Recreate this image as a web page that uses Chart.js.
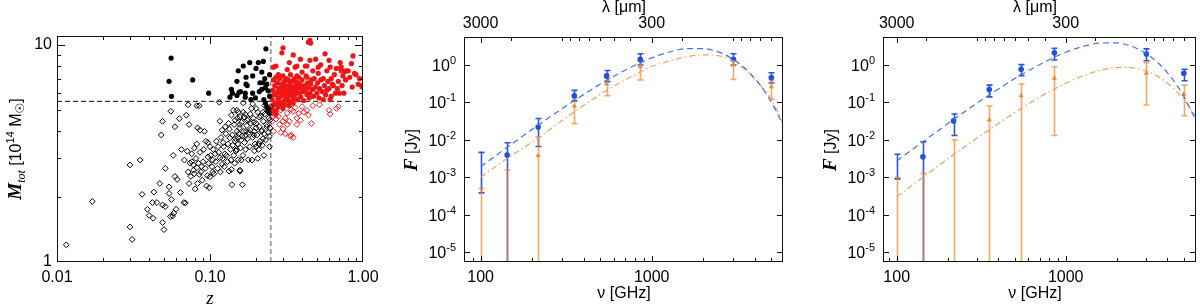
<!DOCTYPE html>
<html>
<head>
<meta charset="utf-8">
<script src="https://cdn.jsdelivr.net/npm/chart.js@4.4.1/dist/chart.umd.min.js"></script>
<style>
  html, body { margin: 0; padding: 0; background: #fff; }
  #wrap { position: relative; width: 1200px; height: 308px; }
  canvas { position: absolute; top: 0; }
</style>
</head>
<body>
<div id="wrap">
  <canvas id="mass" width="400" height="308" style="left:0"></canvas>
  <canvas id="sedA" width="400" height="308" style="left:400px"></canvas>
  <canvas id="sedB" width="400" height="308" style="left:800px"></canvas>
</div>
<script>
// ---------- left panel: cluster mass vs redshift, [z, M_tot (1e14 Msun)] ----------
var zCut = 0.25;
var massCut = 5.5;

var lowzOpen = [
  [0.0115,1.2],[0.017,1.9],[0.030,2.8],[0.035,2.95],[0.030,1.45],[0.031,1.27],[0.036,2.05],[0.039,1.75],
  [0.040,1.64],[0.042,1.88],[0.043,2.1],[0.0425,1.59],[0.045,1.88],[0.047,2.3],[0.049,1.83],[0.049,1.52],
  [0.050,1.41],[0.051,2.7],[0.051,1.8],[0.054,2.22],[0.054,2.07],[0.056,1.94],[0.0575,3.1],[0.059,2.48],
  [0.055,1.62],[0.057,1.63],[0.058,1.68],[0.060,1.75],[0.061,2.4],[0.064,2.09],[0.0675,1.88],[0.069,1.87],
  [0.071,3.24],[0.074,2.86],[0.075,2.48],[0.073,2.3],[0.078,2.8],[0.078,2.65],[0.082,2.72],[0.080,2.17],
  [0.083,2.3],[0.085,2.53],[0.088,2.75],[0.089,2.38],[0.095,2.24],[0.099,2.2],[0.100,2.47],[0.104,2.6],
  [0.116,3.02],[0.120,2.82],[0.125,3.15],[0.133,2.62],[0.139,2.27],[0.148,3.25],[0.157,2.62],[0.163,2.27],
  [0.160,2.95],[0.048,3.85],[0.049,4.45],[0.0555,4.95],[0.059,4.2],[0.063,4.58],[0.070,4.75],[0.072,5.3],
  [0.073,4.3],[0.082,5.25],[0.085,5.25],[0.083,4.15],[0.086,4.05],[0.092,4.0],[0.115,5.45],[0.116,4.45],
  [0.12,4.05],[0.126,4.2],[0.132,4.35],[0.138,4.75],[0.142,5.0],[0.146,4.5],[0.153,4.9],[0.157,4.3],
  [0.167,4.65],[0.172,4.0],[0.15,4.0],[0.135,3.73],[0.146,3.6],[0.16,3.65],[0.122,3.55],[0.113,3.4],
  [0.097,3.55],[0.1,3.4],[0.108,3.15],[0.097,3.05],[0.104,2.95],[0.079,3.35],[0.082,3.5],[0.076,3.15],
  [0.065,3.3],[0.068,2.95],[0.072,2.6],[0.076,2.9],[0.079,2.55],[0.081,3.0],[0.084,2.85],[0.086,3.2],
  [0.087,2.6],[0.09,2.9],[0.091,3.3],[0.093,2.7],[0.094,3.6],[0.096,2.5],[0.098,2.85],[0.101,3.1],
  [0.103,2.75],[0.105,3.3],[0.106,2.55],[0.109,2.9],[0.11,3.6],[0.112,2.7],[0.114,3.2],[0.117,2.6],
  [0.118,3.75],[0.121,3.0],[0.123,3.4],[0.124,2.75],[0.127,3.9],[0.128,3.1],[0.13,2.9],[0.131,3.5],
  [0.134,4.1],[0.136,3.3],[0.137,2.95],[0.14,3.85],[0.141,3.45],[0.143,3.1],[0.144,4.3],[0.147,3.7],
  [0.149,3.3],[0.151,4.6],[0.152,3.5],[0.154,3.9],[0.156,4.15],[0.158,3.35],[0.161,4.4],[0.162,3.8],
  [0.164,3.1],[0.166,4.0],[0.168,3.55],[0.17,4.8],[0.171,3.3],[0.174,4.25],[0.176,3.7],[0.178,4.55],
  [0.18,3.95],[0.182,3.4],[0.185,4.35],[0.187,5.1],[0.19,3.75],[0.192,4.6],[0.195,4.0],[0.197,3.5],
  [0.2,4.35],[0.203,3.85],[0.205,4.9],[0.208,3.3],[0.21,4.2],[0.212,3.6],[0.215,4.7],[0.218,4.05],
  [0.22,3.45],[0.223,4.45],[0.226,3.9],[0.228,4.8],[0.231,3.65],[0.234,4.3],[0.237,5.0],[0.24,3.95],
  [0.242,4.6],[0.245,3.4],[0.247,4.15],[0.249,5.2],[0.188,2.95],[0.205,3.0],[0.225,3.1],[0.178,2.96],
  [0.153,2.96],[0.145,2.85],[0.2,3.4],[0.21,3.5],[0.195,3.25],[0.15,5.0],[0.157,4.65],[0.165,4.9],
  [0.175,4.5],[0.183,4.8],[0.193,4.4],[0.2,5.1],[0.21,4.65],[0.222,4.9],[0.228,5.25],[0.24,5.1],
  [0.246,4.5],[0.235,4.2],[0.217,4.0],[0.2,4.15],[0.183,4.05],[0.17,3.8],[0.153,3.75],[0.193,3.85],
  [0.222,3.7],[0.245,3.8],[0.157,2.65],[0.138,2.67],[0.165,5.4],[0.19,5.35]
];
var lowzFilled = [
  [0.0557,8.7],[0.054,6.8],[0.056,5.8],[0.077,6.9],[0.098,6.0],[0.135,5.75],[0.138,6.25],[0.140,6.0],
  [0.153,7.6],[0.165,8.0],[0.150,6.8],[0.155,6.05],[0.172,7.1],[0.172,6.6],[0.170,5.75],[0.232,9.6],
  [0.223,8.4],[0.207,8.3],[0.182,8.3],[0.218,7.5],[0.19,7.2],[0.228,7.0],[0.212,6.7],[0.222,6.7],
  [0.235,6.6],[0.175,6.5],[0.158,6.1],[0.17,6.0],[0.19,6.0],[0.21,6.1],[0.218,6.25],[0.23,6.35],
  [0.24,6.15],[0.150,5.85],[0.198,5.7],[0.185,5.6],[0.225,5.6],[0.245,5.8],[0.235,5.2],[0.24,5.0],
  [0.245,4.85],[0.2,7.8],[0.245,7.3],[0.23,5.4]
];
var highzFilled = [
  [0.44,10.3],[0.45,10.5],[0.455,10.2],[0.30,9.7],[0.295,9.2],[0.35,9.0],[0.565,9.1],[0.49,8.6],
  [0.86,8.9],[0.84,8.2],[0.71,8.3],[0.39,8.6],[0.45,8.5],[0.33,8.3],[0.6,8.5],[0.53,8.1],[0.27,8.0],
  [0.78,7.6],[0.76,7.55],[0.80,7.6],[0.93,6.6],[0.98,6.5],[0.67,7.8],[0.58,7.6],[0.47,7.6],[0.40,7.5],
  [0.26,7.9],[0.28,7.3],[0.32,7.7],[0.36,7.9],[0.42,8.0],[0.37,7.2],[0.43,7.1],[0.51,7.4],[0.55,7.0],
  [0.62,7.0],[0.65,7.3],[0.72,7.6],[0.74,7.2],[0.85,6.4],[0.88,7.4],[0.68,6.3],[0.64,6.5],[0.7,6.0],
  [0.75,6.0],[0.62,5.8],[0.58,6.2],[0.55,5.6],[0.37,8.0],[0.43,8.0],[0.51,7.9],[0.61,7.9],[0.72,7.9],
  [0.255,5.6],[0.258,6.2],[0.26,6.9],[0.262,5.9],[0.265,6.5],[0.268,5.4],[0.27,7.1],[0.272,6.0],
  [0.275,6.7],[0.278,5.7],[0.28,6.3],[0.282,5.5],[0.285,7.0],[0.288,6.1],[0.29,5.8],[0.292,6.6],
  [0.295,5.45],[0.298,6.4],[0.3,7.2],[0.302,5.9],[0.305,6.2],[0.307,6.8],[0.31,5.6],[0.312,6.5],
  [0.315,7.0],[0.318,6.0],[0.32,5.75],[0.322,6.35],[0.325,6.9],[0.328,5.5],[0.33,6.1],[0.333,6.6],
  [0.336,7.3],[0.338,5.85],[0.34,6.4],[0.343,6.05],[0.346,6.8],[0.35,5.65],[0.353,6.25],[0.356,7.0],
  [0.36,5.9],[0.363,6.5],[0.366,6.15],[0.37,6.75],[0.373,5.6],[0.377,6.4],[0.38,7.1],[0.384,6.0],
  [0.388,6.6],[0.392,5.75],[0.396,6.3],[0.4,6.9],[0.405,6.1],[0.41,5.55],[0.415,6.5],[0.42,6.2],
  [0.425,7.2],[0.43,5.9],[0.435,6.7],[0.44,6.35],[0.445,5.7],[0.45,6.0],[0.455,6.6],[0.46,6.9],
  [0.47,6.25],[0.475,5.8],[0.48,7.0],[0.49,6.4],[0.5,6.0],[0.505,6.7],[0.515,5.7],[0.52,6.3],
  [0.53,6.9],[0.54,6.1],[0.56,6.5],[0.57,5.9],[0.59,6.8],[0.6,6.3],[0.61,5.6],[0.63,6.6],[0.66,6.0],
  [0.69,6.8],[0.73,6.5],[0.77,6.9],[0.82,7.1],[0.9,7.3],[0.95,7.0],[0.99,6.4],
  [0.25,5.1],[0.26,5.3],[0.265,4.9],[0.27,5.0],[0.28,5.2],[0.29,5.35],[0.30,5.1],[0.31,5.3],
  [0.33,5.25],[0.35,5.4],[0.27,4.8],[0.255,5.0]
];
var highzOpen = [
  [0.34,3.85],[0.35,3.75],[0.335,3.8],[0.46,4.35],[0.61,4.8],[0.60,5.0],[0.67,5.1],[0.69,5.2],
  [0.40,5.2],[0.37,4.3],[0.30,4.1],[0.285,4.3],[0.26,4.0],[0.255,4.45],[0.265,4.75],[0.28,4.7],
  [0.31,4.6],[0.32,4.85],[0.29,5.0],[0.275,5.15],[0.34,5.05],[0.38,4.85],[0.37,4.6],[0.32,4.3],
  [0.26,4.9],[0.28,5.4],[0.325,5.4],[0.255,5.2],[0.43,5.0],[0.47,5.25],[0.27,4.55],[0.3,4.45],
  [0.36,5.15],[0.39,4.5],[0.41,4.9],[0.52,5.3],[0.44,4.75],[0.33,4.45],[0.35,4.95],[0.29,3.95],[0.31,3.9]
];

// ---------- SED panels: frequency bands (GHz), fluxes (Jy) ----------
var bandNu = [100, 143, 217, 353, 545, 857, 3000, 5000];

var sedA_blueF  = [null, 3.9e-3, 0.022, 0.15, 0.51, 1.42, 1.42, 0.46];
var sedA_blueLo = [3.8e-4, 1e-7, 6.6e-3, 0.11, 0.36, 1.0, 1.0, 0.33];
var sedA_blueHi = [4.6e-3, 8.3e-3, 0.037, 0.21, 0.71, 2.0, 2.0, 0.62];
var sedA_orangeF  = [null, null, 3.8e-3, 0.08, 0.31, 0.9, 1.0, 0.26];
var sedA_orangeLo = [1e-7, 1e-7, 1e-7, 0.027, 0.15, 0.4, 0.41, 0.12];
var sedA_orangeHi = [5e-4, 1.56e-3, 0.012, 0.13, 0.44, 1.22, 1.36, 0.4];

var sedB_blueF  = [null, 3.5e-3, 0.032, 0.22, 0.77, 2.13, 1.97, 0.6];
var sedB_blueLo = [9e-4, 1e-7, 0.013, 0.14, 0.52, 1.36, 1.3, 0.38];
var sedB_blueHi = [4.1e-3, 8.9e-3, 0.049, 0.29, 1.02, 2.8, 2.7, 0.77];
var sedB_orangeF  = [null, null, null, 0.034, 0.15, 0.44, 0.6, 0.165];
var sedB_orangeLo = [1e-7, 1e-7, 1e-7, 1e-7, 1e-7, 0.013, 0.085, 0.044];
var sedB_orangeHi = [1e-3, 1.26e-3, 0.01, 0.08, 0.31, 0.9, 1.15, 0.29];

// model curves
var modelNu = [100, 143, 217, 353, 545, 700, 857, 1000, 1300, 1600, 2000, 2300, 2600, 3000, 3500, 4000, 4500, 5000, 5900];
var sedA_blueModel   = [1.9e-3, 6.3e-3, 0.0245, 0.112, 0.389, 0.724, 1.15, 1.55, 2.29, 2.74, 2.75, 2.45, 2.02, 1.41, 0.83, 0.437, 0.219, 0.102, 0.0229];
var sedA_orangeModel = [1.0e-3, 3.16e-3, 0.0112, 0.056, 0.209, 0.398, 0.646, 0.912, 1.32, 1.66, 1.86, 1.84, 1.66, 1.26, 0.759, 0.42, 0.23, 0.12, 0.0245];
var sedB_blueModel   = [2.7e-3, 8.9e-3, 0.0347, 0.158, 0.55, 1.02, 1.62, 2.19, 3.24, 3.85, 3.89, 3.47, 2.85, 2.0, 1.17, 0.617, 0.309, 0.145, 0.0324];
var sedB_orangeModel = [3.0e-4, 1.0e-3, 4.0e-3, 0.0186, 0.069, 0.138, 0.226, 0.324, 0.537, 0.724, 0.851, 0.867, 0.813, 0.692, 0.501, 0.331, 0.204, 0.120, 0.0407];

// axis labels
var zLabels = { 0.01: '0.01', 0.1: '0.10', 1: '1.00' };
var massLabels = { 1: '1', 10: '10' };
var nuLabels = { 100: '100', 1000: '1000' };
var lambdaTicks = [3000, 2000, 1000, 900, 800, 700, 600, 500, 400, 300, 200, 100, 90, 80, 70, 60];
var lambdaLabels = { 3000: '3000', 300: '300' };
var fluxExps = [0, -1, -2, -3, -4, -5];

var SANS = "'Liberation Sans', Arial, sans-serif";
var SERIF = "'Liberation Serif', 'Times New Roman', serif";
Chart.defaults.font.family = SANS;
Chart.defaults.color = '#000';

var BLUE = '#1f4fdc';
var ORANGE = '#f0892a';

function logTicks(min, max) {
  var out = [];
  for (var e = Math.floor(Math.log10(min)); e <= Math.ceil(Math.log10(max)); e++) {
    for (var k = 1; k < 10; k++) {
      var v = parseFloat((k * Math.pow(10, e)).toPrecision(6));
      if (v >= min * 0.9999 && v <= max * 1.0001) out.push(v);
    }
  }
  return out;
}
function isDecade(v) {
  var l = Math.log10(v);
  return Math.abs(l - Math.round(l)) < 1e-6;
}
function pickLabel(map, v) {
  for (var key in map) {
    if (Math.abs(parseFloat(key) - v) / v < 1e-6) return map[key];
  }
  return '';
}
function toPts(list) {
  return list.map(function (p) { return { x: p[0], y: p[1] }; });
}
function pairUp(xs, ys) {
  var out = [];
  for (var i = 0; i < xs.length; i++) if (ys[i] !== null) out.push({ x: xs[i], y: ys[i] });
  return out;
}

// draw a sequence of differently styled text runs, centred on (x, y) baseline
function drawRich(ctx, parts, x, y, rotate) {
  ctx.save();
  ctx.translate(x, y);
  if (rotate) ctx.rotate(-Math.PI / 2);
  var total = 0;
  parts.forEach(function (p) { ctx.font = p.font; p.w = ctx.measureText(p.t).width; total += p.w; });
  var cx = -total / 2;
  ctx.fillStyle = '#000';
  ctx.textBaseline = 'alphabetic';
  ctx.textAlign = 'left';
  parts.forEach(function (p) {
    ctx.font = p.font;
    ctx.fillText(p.t, cx, p.dy || 0);
    cx += p.w;
  });
  ctx.restore();
}

// IDL style box: frame plus inward ticks on all four sides
var boxPlugin = {
  id: 'box',
  afterDatasetsDraw: function (chart, args, o) {
    var ctx = chart.ctx, a = chart.chartArea, xs = chart.scales.x, ys = chart.scales.y;
    ctx.save();
    ctx.strokeStyle = '#111';
    ctx.lineWidth = 1;
    ctx.strokeRect(a.left + 0.5, a.top + 0.5, a.right - a.left - 1, a.bottom - a.top - 1);
    ctx.beginPath();
    o.xBottom.forEach(function (v) {
      var px = Math.round(xs.getPixelForValue(v)) + 0.5;
      if (px < a.left || px > a.right) return;
      var len = isDecade(v) ? o.major : o.minor;
      ctx.moveTo(px, a.bottom); ctx.lineTo(px, a.bottom - len);
    });
    o.xTop.forEach(function (v) {
      var px = Math.round(xs.getPixelForValue(v)) + 0.5;
      if (px < a.left || px > a.right) return;
      var len = o.topMajor.indexOf(v) >= 0 ? o.major : o.minor;
      ctx.moveTo(px, a.top); ctx.lineTo(px, a.top + len);
    });
    o.yTicks.forEach(function (v) {
      var py = Math.round(ys.getPixelForValue(v)) + 0.5;
      if (py < a.top || py > a.bottom) return;
      var len = isDecade(v) ? o.major : o.minor;
      ctx.moveTo(a.left, py); ctx.lineTo(a.left + len, py);
      ctx.moveTo(a.right, py); ctx.lineTo(a.right - len, py);
    });
    ctx.stroke();
    ctx.restore();
  },
  afterDraw: function (chart, args, o) {
    if (o.titles) o.titles(chart.ctx, chart);
  }
};

// error bars for the SED panels
var errPlugin = {
  id: 'errbars',
  beforeDatasetsDraw: function (chart, args, o) {
    var ctx = chart.ctx, a = chart.chartArea, xs = chart.scales.x, ys = chart.scales.y;
    ctx.save();
    ctx.beginPath();
    ctx.rect(a.left, a.top, a.right - a.left, a.bottom - a.top);
    ctx.clip();
    o.series.forEach(function (s) {
      ctx.strokeStyle = s.color;
      ctx.lineWidth = 1.6;
      for (var i = 0; i < bandNu.length; i++) {
        var px = Math.round(xs.getPixelForValue(bandNu[i])) + 0.5;
        var pHi = ys.getPixelForValue(s.hi[i]);
        var pLo = Math.min(ys.getPixelForValue(s.lo[i]), a.bottom + 5);
        ctx.beginPath();
        ctx.moveTo(px, pHi); ctx.lineTo(px, pLo);
        ctx.moveTo(px - 3, pHi); ctx.lineTo(px + 3, pHi);
        if (pLo < a.bottom) { ctx.moveTo(px - 3, pLo); ctx.lineTo(px + 3, pLo); }
        ctx.stroke();
      }
    });
    ctx.restore();
  }
};

function logAxis(min, max, labels, tickValues, extra) {
  var ax = {
    type: 'logarithmic',
    min: min,
    max: max,
    grid: { display: false, drawTicks: false },
    border: { display: false },
    afterBuildTicks: function (s) {
      s.ticks = tickValues.map(function (v) { return { value: v }; });
    },
    ticks: {
      autoSkip: false,
      maxRotation: 0,
      font: { size: 16 },
      callback: function (v) { return pickLabel(labels, v); }
    }
  };
  for (var k in extra) ax[k] = extra[k];
  return ax;
}

// ---------- panel 1 ----------
new Chart(document.getElementById('mass'), {
  type: 'scatter',
  data: {
    datasets: [
      { data: toPts(lowzOpen), pointStyle: 'rectRot', pointRadius: 2.9, borderWidth: 1,
        borderColor: '#000', backgroundColor: 'rgba(0,0,0,0)' },
      { data: toPts(highzOpen), pointStyle: 'rectRot', pointRadius: 2.9, borderWidth: 1,
        borderColor: '#f01515', backgroundColor: 'rgba(0,0,0,0)' },
      { data: toPts(lowzFilled), pointStyle: 'circle', pointRadius: 2.6, borderWidth: 0,
        backgroundColor: '#000' },
      { data: toPts(highzFilled), pointStyle: 'circle', pointRadius: 2.6, borderWidth: 0,
        backgroundColor: '#f01515' },
      { data: [{ x: 0.01, y: massCut }, { x: 1, y: massCut }], showLine: true, pointRadius: 0,
        borderColor: '#111', borderWidth: 1, borderDash: [5, 3] },
      { data: [{ x: zCut, y: 1 }, { x: zCut, y: 11 }], showLine: true, pointRadius: 0,
        borderColor: '#555', borderWidth: 1, borderDash: [5, 3] }
    ]
  },
  options: {
    responsive: false, animation: false, events: [], devicePixelRatio: 1,
    layout: { padding: { top: 36, right: 37, left: 0, bottom: 0 } },
    plugins: {
      legend: { display: false }, tooltip: { enabled: false },
      box: {
        xBottom: logTicks(0.01, 1), xTop: logTicks(0.01, 1), topMajor: [0.01, 0.1, 1],
        yTicks: logTicks(1, 11), major: 8, minor: 4,
        titles: function (ctx) {
          drawRich(ctx, [{ t: 'z', font: 'italic 19px ' + SERIF }], 210, 304, false);
          drawRich(ctx, [
            { t: 'M', font: 'bold italic 19px ' + SERIF },
            { t: 'tot', font: 'italic 12px ' + SERIF, dy: 4 },
            { t: ' [10', font: '16px ' + SANS },
            { t: '14', font: '11px ' + SANS, dy: -7 },
            { t: ' M', font: '16px ' + SANS },
            { t: '\u2609', font: '12px DejaVu Sans', dy: 3 },
            { t: ']', font: '16px ' + SANS }
          ], 21, 149, true);
        }
      }
    },
    scales: {
      x: logAxis(0.01, 1, zLabels, logTicks(0.01, 1), {
        afterFit: function (s) { s.height = 46; }
      }),
      y: logAxis(1, 11, massLabels, logTicks(1, 11), {
        afterFit: function (s) { s.width = 57; }
      })
    }
  },
  plugins: [boxPlugin]
});
Chart.getChart('mass').options.scales.x.ticks.padding = 6;
Chart.getChart('mass').options.scales.y.ticks.padding = 5;
Chart.getChart('mass').update();

// ---------- panels 2 and 3 ----------
function sedChart(id, nuMin, nuMax, areaLeft, padRight, titleX, d) {
  var fMin = 5.4e-6, fMax = 5.6;
  var lamNu = lambdaTicks.map(function (l) { return 3e5 / l; });
  var lamLabelNu = {};
  for (var l in lambdaLabels) lamLabelNu[3e5 / parseFloat(l)] = lambdaLabels[l];
  var yDecades = fluxExps.map(function (e) { return Math.pow(10, e); });

  new Chart(document.getElementById(id), {
    type: 'scatter',
    data: {
      datasets: [
        { data: pairUp(modelNu, d.blueModel), showLine: true, pointRadius: 0, borderColor: '#4673e6',
          borderWidth: 1.2, borderDash: [6, 4], cubicInterpolationMode: 'monotone', clip: 0 },
        { data: pairUp(modelNu, d.orangeModel), showLine: true, pointRadius: 0, borderColor: '#f0a060',
          borderWidth: 1.2, borderDash: [6, 3, 1.5, 3], cubicInterpolationMode: 'monotone', clip: 0 },
        { data: pairUp(bandNu, d.orangeF), pointStyle: 'triangle', pointRadius: 3, borderWidth: 0,
          backgroundColor: ORANGE },
        { data: pairUp(bandNu, d.blueF), pointStyle: 'circle', pointRadius: 2.8, borderWidth: 0,
          backgroundColor: BLUE }
      ]
    },
    options: {
      responsive: false, animation: false, events: [], devicePixelRatio: 1,
      layout: { padding: { top: 0, right: padRight, left: 0, bottom: 0 } },
      plugins: {
        legend: { display: false }, tooltip: { enabled: false },
        errbars: {
          series: [
            { hi: d.blueHi, lo: d.blueLo, color: 'rgba(35,75,215,0.95)' },
            { hi: d.orangeHi, lo: d.orangeLo, color: 'rgba(240,135,40,0.72)' }
          ]
        },
        box: {
          xBottom: logTicks(nuMin, nuMax), xTop: lamNu, topMajor: [3e5 / 3000, 3e5 / 300],
          yTicks: yDecades, major: 6, minor: 4,
          titles: function (ctx, chart) {
            var a = chart.chartArea, ys = chart.scales.y;
            drawRich(ctx, [{ t: '\u03bd [GHz]', font: '16px ' + SANS }], titleX, 298, false);
            drawRich(ctx, [{ t: '\u03bb [\u03bcm]', font: '16px ' + SANS }], titleX, 12, false);
            drawRich(ctx, [
              { t: 'F', font: 'bold italic 19px ' + SERIF },
              { t: ' [Jy]', font: '16px ' + SANS }
            ], areaLeft - 47, 150, true);
            // y tick labels 10^n
            ctx.save();
            ctx.fillStyle = '#000';
            ctx.textBaseline = 'alphabetic';
            fluxExps.forEach(function (e) {
              var py = ys.getPixelForValue(Math.pow(10, e));
              ctx.font = '11px ' + SANS;
              var ew = ctx.measureText(String(e)).width;
              ctx.font = '16px ' + SANS;
              var bw = ctx.measureText('10').width;
              var right = a.left - 8;
              ctx.fillText('10', right - ew - bw, py + 6);
              ctx.font = '11px ' + SANS;
              ctx.fillText(String(e), right - ew, py - 1);
            });
            ctx.restore();
          }
        }
      },
      scales: {
        x: logAxis(nuMin, nuMax, nuLabels, logTicks(nuMin, nuMax), {
          afterFit: function (s) { s.height = 46; }
        }),
        x2: logAxis(nuMin, nuMax, lamLabelNu, lamNu, {
          position: 'top',
          afterFit: function (s) { s.height = 37; }
        }),
        y: {
          type: 'logarithmic', min: fMin, max: fMax,
          grid: { display: false, drawTicks: false }, border: { display: false },
          ticks: { display: false },
          afterFit: function (s) { s.width = areaLeft; }
        }
      }
    },
    plugins: [errPlugin, boxPlugin]
  });
  var c = Chart.getChart(id);
  c.options.scales.x.ticks.padding = 6;
  c.options.scales.x2.ticks.padding = 4;
  c.update();
}

sedChart('sedA', 80, 5850, 64, 17, 224, {
  blueF: sedA_blueF, blueLo: sedA_blueLo, blueHi: sedA_blueHi,
  orangeF: sedA_orangeF, orangeLo: sedA_orangeLo, orangeHi: sedA_orangeHi,
  blueModel: sedA_blueModel, orangeModel: sedA_orangeModel
});
sedChart('sedB', 83, 5900, 83, 3, 235, {
  blueF: sedB_blueF, blueLo: sedB_blueLo, blueHi: sedB_blueHi,
  orangeF: sedB_orangeF, orangeLo: sedB_orangeLo, orangeHi: sedB_orangeHi,
  blueModel: sedB_blueModel, orangeModel: sedB_orangeModel
});
</script>
</body>
</html>
